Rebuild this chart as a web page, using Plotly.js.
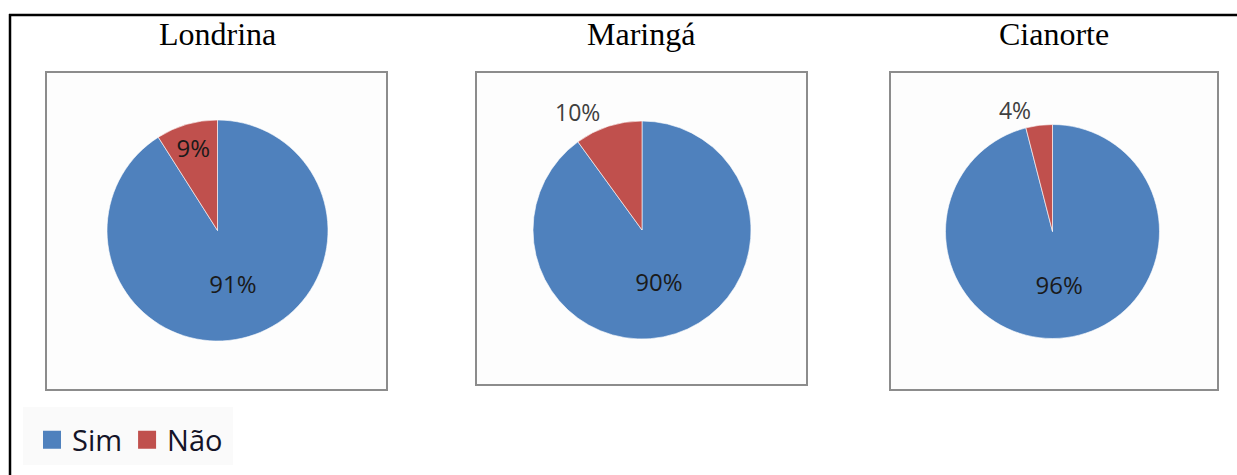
<!DOCTYPE html>
<html>
<head>
<meta charset="utf-8">
<script src="https://cdn.plot.ly/plotly-3.0.1.min.js"></script>
<style>html,body{margin:0;padding:0;background:#fff;}#chart{width:1237px;height:475px;}</style>
</head>
<body>
<div id="chart"></div>
<script>
// ---- data ----
const cities = ['Londrina', 'Maringá', 'Cianorte'];
const categories = ['Sim', 'Não'];
const simValues = [91, 90, 96];
const naoValues = [9, 10, 4];

// ---- layout helpers (pixel -> paper) ----
const W = 1237, H = 475;
const fx = x => x / W;
const fy = y => 1 - y / H;

// pie geometry (centre x, centre y, radius in px) and chart boxes
const pieGeom = [[217.5, 230.5, 110.5], [642, 230, 109], [1052.5, 231.5, 107]];
const boxes = [[46, 72, 387, 390], [476, 72, 807, 385], [890, 72, 1218, 390]];
const titlePos = [[217, 34], [641, 34], [1054, 34]];
const textPositions = [['inside', 'inside'], ['inside', 'outside'], ['inside', 'outside']];

const colSim = '#4F81BD', colNao = '#C0504D';

const traces = [];
cities.forEach((c, i) => {
  const [cx, cy, r] = pieGeom[i];
  traces.push({
    type: 'pie',
    name: c,
    labels: categories,
    values: [simValues[i], naoValues[i]],
    sort: false,
    direction: 'clockwise',
    rotation: 0,
    showlegend: false,
    textinfo: 'percent',
    textposition: textPositions[i],
    insidetextorientation: 'horizontal',
    insidetextfont: {family: 'Open Sans, sans-serif', size: 24, color: '#1a1a1a'},
    outsidetextfont: {family: 'Open Sans, sans-serif', size: 23, color: '#404040'},
    marker: {colors: [colSim, colNao], line: {color: 'rgba(255,255,255,0.6)', width: 1}},
    domain: {x: [fx(cx - r), fx(cx + r)], y: [fy(cy + r), fy(cy - r)]},
    hoverinfo: 'label+percent'
  });
});

// legend entries (dummy square markers)
[colSim, colNao].forEach((col, k) => {
  traces.push({
    type: 'scatter', mode: 'markers', x: [0], y: [0],
    name: categories[k],
    marker: {symbol: 'square', size: 16, color: col, line: {color: col, width: 2}},
    xaxis: 'x', yaxis: 'y', showlegend: true, hoverinfo: 'skip'
  });
});

const shapes = [];
// outer frame: top and left lines
shapes.push({type: 'line', xref: 'paper', yref: 'paper', x0: fx(9), x1: fx(1237), y0: fy(15), y1: fy(15), line: {color: '#000', width: 2.5}});
shapes.push({type: 'line', xref: 'paper', yref: 'paper', x0: fx(10), x1: fx(10), y0: fy(14), y1: fy(475), line: {color: '#000', width: 2.5}});
boxes.forEach(b => {
  shapes.push({type: 'rect', xref: 'paper', yref: 'paper', layer: 'below',
    x0: fx(b[0]), x1: fx(b[2]), y0: fy(b[3]), y1: fy(b[1]),
    fillcolor: '#fdfdfd', line: {color: '#8c8c8c', width: 2}});
});
// faint legend backdrop
shapes.push({type: 'rect', xref: 'paper', yref: 'paper', layer: 'below',
  x0: fx(23), x1: fx(233), y0: fy(465), y1: fy(407), fillcolor: '#fafafa', line: {width: 0}});

const annotations = cities.map((c, i) => ({
  text: c, xref: 'paper', yref: 'paper', x: fx(titlePos[i][0]), y: fy(titlePos[i][1]),
  xanchor: 'center', yanchor: 'middle', showarrow: false,
  font: {family: 'Liberation Serif, Times New Roman, serif', size: 32, color: '#000'}
}));

const layout = {
  width: W, height: H,
  margin: {l: 0, r: 0, t: 0, b: 0},
  paper_bgcolor: '#ffffff', plot_bgcolor: 'rgba(0,0,0,0)',
  xaxis: {visible: false, range: [1, 2], domain: [0, 0.01], fixedrange: true},
  yaxis: {visible: false, range: [1, 2], domain: [0, 0.01], fixedrange: true},
  showlegend: true,
  legend: {orientation: 'h', x: fx(32), y: fy(440), xanchor: 'left', yanchor: 'middle',
    bgcolor: 'rgba(0,0,0,0)', itemwidth: 30, itemclick: false, itemdoubleclick: false,
    font: {family: 'Open Sans, sans-serif', size: 29, color: '#141428'}},
  shapes: shapes,
  annotations: annotations
};

Plotly.newPlot('chart', traces, layout, {displayModeBar: false, staticPlot: true});
</script>
</body>
</html>
